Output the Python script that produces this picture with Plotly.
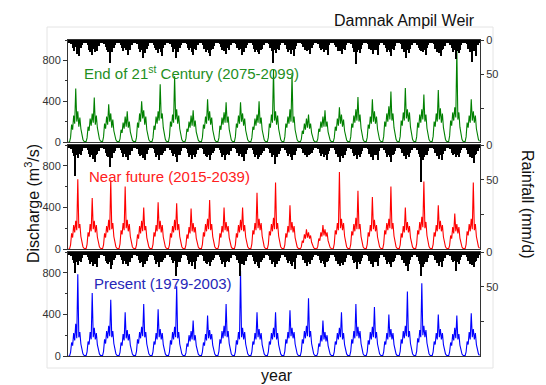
import plotly.graph_objects as go

# ---------------- data ----------------
N_YEARS = 25
Q_PER_YEAR = 16   # discharge samples per year
R_PER_YEAR = 12   # rainfall samples per year

discharge_end = [
    [3,2,45,170,120,260,180,525,200,300,150,240,130,60,25,8],
    [4,2,40,150,110,230,160,280,190,435,170,260,140,65,28,9],
    [3,2,50,180,130,250,170,370,200,280,140,220,110,55,22,7],
    [3,1,30,120,90,190,130,250,150,300,140,200,100,45,18,6],
    [3,2,45,190,140,280,200,400,230,310,170,250,120,55,22,7],
    [3,2,40,160,120,250,180,300,210,565,230,280,140,65,26,8],
    [4,2,55,200,150,270,190,645,220,320,180,260,130,60,24,8],
    [3,1,35,130,100,200,140,260,160,310,150,210,100,45,18,6],
    [3,2,45,170,130,250,180,420,210,300,170,240,120,55,22,7],
    [3,2,40,160,120,240,170,290,190,390,190,250,125,55,22,7],
    [3,2,50,180,140,260,180,390,200,280,160,230,115,52,21,7],
    [3,2,40,150,120,230,160,270,190,400,180,240,120,55,22,7],
    [4,2,45,180,140,270,190,710,210,300,170,260,130,60,24,8],
    [3,2,50,180,140,250,180,320,200,660,190,250,120,55,22,7],
    [3,1,25,110,80,180,120,230,140,270,130,180,90,40,16,5],
    [3,1,30,130,100,200,140,250,150,310,150,200,100,45,18,6],
    [3,2,40,150,110,230,160,340,180,270,150,220,110,50,20,6],
    [3,2,50,180,140,260,190,320,210,440,200,270,135,60,24,8],
    [3,2,45,170,130,250,180,420,200,300,180,250,125,55,22,7],
    [4,2,55,200,150,280,200,350,220,495,210,280,140,65,26,8],
    [4,2,55,210,160,290,210,530,230,320,200,290,145,65,26,8],
    [3,2,50,190,140,270,190,320,220,465,200,270,135,60,24,8],
    [4,2,55,200,150,280,200,510,220,330,190,280,140,62,25,8],
    [4,2,60,210,160,290,210,340,240,910,220,290,145,65,26,8],
    [3,2,50,190,140,260,190,420,210,300,190,260,130,58,23,7],
]

discharge_near = [
    [3,2,40,150,110,230,160,270,180,670,200,240,120,55,22,7],
    [3,2,45,160,120,240,170,490,190,270,160,230,115,52,21,7],
    [3,2,40,150,110,220,160,280,180,660,190,250,120,55,22,7],
    [3,2,50,180,140,250,180,600,200,280,170,240,120,55,22,7],
    [3,1,40,140,100,220,150,270,170,400,180,220,110,50,20,6],
    [3,2,45,160,120,230,170,450,190,270,160,230,115,52,21,7],
    [3,2,40,150,110,220,160,280,180,440,180,240,120,55,22,7],
    [3,1,40,140,100,210,150,390,170,250,160,210,105,48,19,6],
    [3,2,45,160,120,240,170,290,190,470,180,240,120,55,22,7],
    [3,2,40,150,110,220,160,400,180,260,170,220,110,50,20,6],
    [3,2,40,150,110,230,160,280,180,400,170,230,115,52,21,7],
    [3,2,50,180,140,250,180,540,200,290,180,250,125,56,22,7],
    [3,2,45,170,130,240,170,300,190,640,190,250,125,56,22,7],
    [3,1,40,150,110,220,160,420,180,260,160,220,110,50,20,6],
    [2,1,20,80,60,140,100,190,110,160,100,130,65,30,12,4],
    [2,1,25,100,80,160,120,230,130,190,120,160,80,36,14,5],
    [3,2,50,180,140,250,180,740,200,290,180,250,125,56,22,7],
    [3,2,45,170,130,240,170,300,190,560,190,240,120,55,22,7],
    [3,2,45,160,120,230,170,500,190,280,170,230,115,52,21,7],
    [3,2,50,180,140,250,180,290,200,600,190,250,125,56,22,7],
    [3,1,40,150,110,220,160,400,180,260,160,220,110,50,20,6],
    [3,2,50,180,140,260,180,310,210,650,200,260,130,58,23,7],
    [3,2,45,160,120,230,170,420,190,270,170,230,115,52,21,7],
    [3,1,35,130,100,210,150,340,170,240,150,210,105,48,19,6],
    [3,2,45,170,130,240,170,290,190,640,180,240,120,55,22,7],
]

discharge_present = [
    [3,1,35,130,100,220,150,310,170,785,180,230,115,52,21,7],
    [3,1,40,140,110,230,160,605,180,270,160,220,110,50,20,6],
    [3,2,45,160,120,240,170,290,190,540,180,240,120,55,22,7],
    [3,1,35,130,100,210,150,420,170,250,150,210,105,48,19,6],
    [3,2,45,160,120,230,170,280,190,500,180,230,115,52,21,7],
    [3,1,40,140,110,220,160,450,180,260,160,220,110,50,20,6],
    [3,2,40,150,110,230,160,280,180,670,170,230,115,52,21,7],
    [2,1,30,120,90,200,140,240,160,340,150,200,100,45,18,6],
    [3,1,40,130,100,210,150,390,170,250,160,210,105,48,19,6],
    [3,2,45,160,120,240,170,290,190,500,180,240,120,55,22,7],
    [3,2,40,150,110,230,160,820,180,270,160,230,115,52,21,7],
    [3,1,40,140,110,220,160,420,180,260,160,220,110,50,20,6],
    [3,1,40,140,110,220,160,270,180,420,160,220,110,50,20,6],
    [3,2,45,160,120,230,170,440,190,270,170,230,115,52,21,7],
    [3,2,45,160,120,240,170,290,190,555,180,240,120,55,22,7],
    [2,1,30,120,90,200,140,340,160,230,140,200,100,45,18,6],
    [3,1,40,140,110,220,160,270,180,420,160,220,110,50,20,6],
    [3,2,45,160,120,240,170,500,190,280,170,240,120,55,22,7],
    [3,2,40,150,110,230,160,280,180,470,170,230,115,52,21,7],
    [3,1,40,140,110,220,160,400,180,260,160,220,110,50,20,6],
    [3,2,45,160,120,240,170,290,190,620,180,240,120,55,22,7],
    [3,2,45,170,130,250,180,700,200,290,180,250,125,56,22,7],
    [3,1,40,140,110,220,160,400,180,260,160,220,110,50,20,6],
    [3,1,40,130,100,210,150,270,170,390,160,210,105,48,19,6],
    [3,1,40,140,110,230,160,410,180,260,160,220,110,50,20,6],
]

rain_end = [
    [5,4,6,12,16,11,20,13,24,12,8,5],
    [4,5,7,14,18,22,13,17,12,16,9,5],
    [5,4,6,11,14,17,34,13,18,12,7,4],
    [4,5,7,12,16,12,15,22,13,15,8,5],
    [5,4,6,13,18,14,27,15,19,13,9,5],
    [4,5,7,12,15,19,13,17,24,12,8,4],
    [5,4,6,11,17,13,26,14,18,12,7,5],
    [4,5,6,12,15,12,18,22,13,15,8,4],
    [5,4,7,13,18,14,19,24,15,13,9,5],
    [4,5,6,11,14,16,14,20,12,15,8,4],
    [5,4,6,12,15,13,22,14,17,12,7,5],
    [4,5,7,13,17,14,18,21,14,13,8,4],
    [5,4,6,12,16,34,15,19,13,15,8,5],
    [4,5,7,13,18,14,20,15,23,13,9,5],
    [5,4,6,11,14,12,16,14,20,12,7,4],
    [4,5,6,12,15,13,18,15,14,22,8,5],
    [5,4,7,11,16,12,16,21,13,15,8,4],
    [4,5,6,12,17,36,17,14,19,13,8,5],
    [5,4,6,13,15,13,20,15,14,22,7,4],
    [4,5,7,12,17,14,18,23,13,15,9,5],
    [5,4,6,13,18,14,26,15,19,13,8,5],
    [4,5,7,12,15,16,17,14,22,12,8,4],
    [5,4,6,13,17,14,19,24,14,13,9,5],
    [4,5,7,12,18,15,28,16,19,14,8,5],
    [5,4,6,13,17,14,32,16,14,23,8,4],
]

rain_near = [
    [5,4,6,12,16,44,15,19,13,15,8,5],
    [4,5,7,13,17,14,20,24,14,13,9,4],
    [5,4,6,12,16,17,32,14,19,12,8,5],
    [4,5,7,11,17,13,18,22,14,15,8,4],
    [5,4,6,13,16,15,19,14,21,13,7,5],
    [4,5,6,12,18,14,22,15,14,12,8,4],
    [5,4,7,12,16,13,18,24,15,15,9,5],
    [4,5,6,11,17,14,20,14,18,13,7,4],
    [5,4,6,13,16,17,15,22,14,12,8,5],
    [4,5,7,12,17,14,21,15,13,15,8,4],
    [5,4,6,11,16,13,18,14,23,13,7,5],
    [4,5,7,13,18,15,20,17,14,12,9,4],
    [5,4,6,12,17,14,28,15,18,13,8,5],
    [4,5,7,11,16,13,18,22,14,15,8,4],
    [5,4,6,12,14,12,17,14,13,12,7,4],
    [4,5,6,11,16,13,18,15,21,13,8,5],
    [5,4,7,13,17,14,24,16,19,15,9,5],
    [4,5,6,12,16,15,20,14,18,13,8,4],
    [5,4,6,13,18,14,21,15,14,22,8,5],
    [4,5,7,12,17,14,18,24,14,13,9,4],
    [5,4,6,11,16,13,20,14,18,12,7,5],
    [4,5,7,13,18,53,21,17,15,14,9,5],
    [5,4,6,12,16,14,20,15,22,13,8,4],
    [4,5,6,11,14,13,17,14,18,12,7,5],
    [5,4,7,13,17,14,19,26,15,13,8,4],
]

rain_present = [
    [5,4,6,12,16,31,15,19,13,15,8,5],
    [4,5,7,12,17,14,20,18,14,22,8,4],
    [5,4,6,13,16,17,15,24,19,12,8,5],
    [4,5,7,11,17,13,18,20,14,15,8,4],
    [5,4,6,12,16,15,22,14,18,13,7,5],
    [4,5,6,12,18,14,21,15,14,12,8,4],
    [5,4,7,12,16,13,35,21,15,15,9,5],
    [4,5,6,11,17,14,20,14,24,13,7,4],
    [5,4,6,13,16,17,15,20,14,12,8,5],
    [4,5,7,12,17,14,22,15,13,15,8,4],
    [5,4,6,11,16,34,18,14,19,13,7,5],
    [4,5,7,13,18,15,20,23,14,12,9,4],
    [5,4,6,12,17,14,21,15,18,13,8,5],
    [4,5,7,11,16,13,18,20,14,24,8,4],
    [5,4,6,12,16,15,20,14,18,12,7,4],
    [4,5,6,11,16,13,18,22,15,13,8,5],
    [5,4,7,13,17,14,20,16,19,15,9,5],
    [4,5,6,12,16,15,24,14,18,13,8,4],
    [5,4,6,13,18,14,21,15,14,20,8,5],
    [4,5,7,12,17,14,18,21,14,13,9,4],
    [5,4,6,11,16,13,20,28,18,12,7,5],
    [4,5,7,13,18,34,21,17,15,14,9,5],
    [5,4,6,12,16,14,20,15,22,13,8,4],
    [4,5,6,11,14,13,27,14,18,12,7,5],
    [5,4,7,13,17,14,19,22,15,13,8,4],
]

panel_labels = ["End of 21<sup>st</sup> Century (2075-2099)",
                "Near future (2015-2039)",
                "Present (1979-2003)"]
discharge_ticks = [0, 400, 800]
rain_ticks = [0, 50, 100]
rain_ticktext = ["0", "50", ""]

# ---------------- helpers ----------------
def flatten(yearly):
    return [v for year in yearly for v in year]

def times(yearly, per_year):
    return [y + (i + 0.5) / per_year for y in range(len(yearly)) for i in range(per_year)]

FONT = "Arial, Liberation Sans, sans-serif"
AX = "#333333"

line_colors = ["#008000", "#ff0000", "#0000ff"]
text_colors = ["#1f8f1f", "#ff2020", "#2626b8"]
q_series = [discharge_end, discharge_near, discharge_present]
r_series = [rain_end, rain_near, rain_present]

# pixel geometry -> paper domains
W, H = 546, 385
L, R, T, B = 68, 66, 40, 29
PH = H - T - B

def ydom(top_px, bot_px):
    return [(H - B - bot_px) / PH, (H - B - top_px) / PH]

domains = [ydom(40, 142), ydom(145, 249), ydom(252, 356)]

fig = go.Figure()
layout = dict(
    width=W, height=H,
    margin=dict(l=L, r=R, t=T, b=B),
    paper_bgcolor="white", plot_bgcolor="white",
    showlegend=False, bargap=0, barmode="overlay",
    font=dict(family=FONT, size=11, color=AX),
)

for k in range(3):
    xname = "x" if k == 0 else f"x{k+1}"
    yq = 2 * k + 1
    yr = 2 * k + 2
    yq_name = "y" if yq == 1 else f"y{yq}"
    yr_name = f"y{yr}"

    fig.add_trace(go.Bar(
        x=times(r_series[k], R_PER_YEAR), y=flatten(r_series[k]),
        width=1.0 / R_PER_YEAR,
        marker=dict(color="black", line=dict(width=0)),
        xaxis=xname, yaxis=yr_name, hoverinfo="skip"))
    fig.add_trace(go.Scatter(
        x=times(q_series[k], Q_PER_YEAR), y=flatten(q_series[k]),
        mode="lines", line=dict(color=line_colors[k], width=1.1),
        xaxis=xname, yaxis=yq_name, hoverinfo="skip"))

    xkey = "xaxis" if k == 0 else f"xaxis{k+1}"
    layout[xkey] = dict(
        domain=[0, 1], anchor=yq_name, range=[0, N_YEARS],
        showticklabels=False, ticks="", showgrid=False, zeroline=False,
        showline=True, linecolor=AX, linewidth=1, mirror=True)
    layout["yaxis" if yq == 1 else f"yaxis{yq}"] = dict(
        domain=domains[k], anchor=xname, range=[0, 1000],
        tickvals=discharge_ticks, ticks="outside", ticklen=4, tickcolor=AX,
        minor=dict(dtick=200, ticks="outside", ticklen=2, tickcolor=AX),
        showgrid=False, zeroline=False, showline=True, linecolor=AX,
        linewidth=1, tickfont=dict(size=11, color=AX, family=FONT))
    layout[f"yaxis{yr}"] = dict(
        overlaying=yq_name, side="right", anchor=xname, range=[150, 0],
        tickvals=rain_ticks, ticktext=rain_ticktext, ticks="outside",
        ticklen=3, tickcolor=AX, showgrid=False, zeroline=False,
        showline=True, linecolor=AX, linewidth=1,
        tickfont=dict(size=11, color=AX, family=FONT))

fig.update_layout(**layout)

def px_x(p):
    return (p - L) / (W - L - R)

def px_y(p):
    return (H - B - p) / PH

annotations = [
    dict(text="Damnak Ampil Weir", x=px_x(477), y=px_y(20), xanchor="right",
         yanchor="middle", font=dict(size=16, color="#111111")),
    dict(text="Discharge (m<sup>3</sup>/s)", x=px_x(32), y=px_y(204),
         textangle=-90, xanchor="center", yanchor="middle",
         font=dict(size=16, color="#111111")),
    dict(text="Rainfall (mm/d)", x=px_x(528), y=px_y(204),
         textangle=90, xanchor="center", yanchor="middle",
         font=dict(size=16, color="#111111")),
    dict(text="year", x=px_x(277), y=px_y(376), xanchor="center",
         yanchor="middle", font=dict(size=16, color="#111111")),
]
label_pos = [(82, 72), (87, 176), (92, 283)]
for k in range(3):
    annotations.append(dict(
        text=panel_labels[k], x=px_x(label_pos[k][0]), y=px_y(label_pos[k][1]),
        xanchor="left", yanchor="middle",
        font=dict(size=15, color=text_colors[k])))
for a in annotations:
    a.update(xref="paper", yref="paper", showarrow=False, font_family=FONT)
fig.update_layout(annotations=annotations)

fig.add_shape(type="rect", xref="paper", yref="paper",
              x0=px_x(47), x1=px_x(493), y0=px_y(368), y1=px_y(27),
              line=dict(color="#e4e4e4", width=1), fillcolor="rgba(0,0,0,0)",
              layer="below")

fig.write_html("out.html", config={"displayModeBar": False},
               post_script="document.body.style.margin='0';document.body.style.padding='0';")
